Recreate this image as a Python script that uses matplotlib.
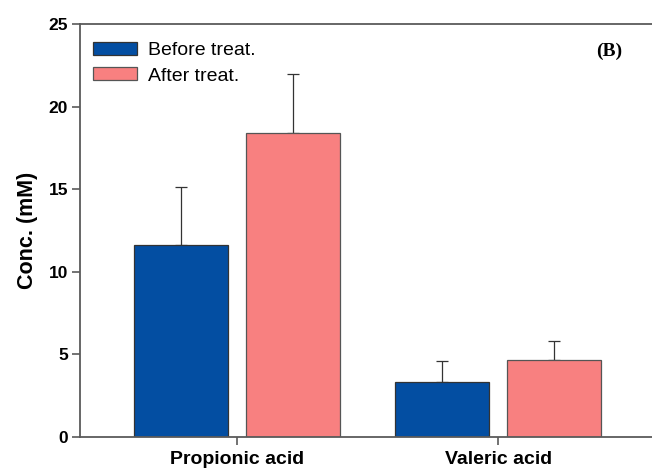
import numpy as np
import matplotlib.pyplot as plt

plt.rcParams['font.family'] = ['Liberation Sans', 'DejaVu Sans']

# data
categories = ["Propionic acid", "Valeric acid"]
before_vals = [11.62, 3.33]
before_err = [3.51, 1.27]
after_vals = [18.40, 4.66]
after_err = [3.57, 1.15]

blue = "#034EA2"
pink = "#F88080"
grey = "#5a5a5a"

fig = plt.figure(figsize=(6.52, 4.71), dpi=100)
ax = fig.add_axes([0.1227, 0.0722, 0.8973, 0.8769])

x = np.arange(len(categories))
w = 0.36
off = 0.214
ax.bar(x - off, before_vals, w, color=blue, edgecolor="#333333", linewidth=0.9,
       label="Before treat.", zorder=2)
ax.bar(x + off, after_vals, w, color=pink, edgecolor="#555555", linewidth=0.9,
       label="After treat.", zorder=2)
ax.errorbar(x - off, before_vals, yerr=[np.zeros(2), before_err], fmt="none",
            ecolor="#333333", elinewidth=0.9, capsize=4.5, capthick=0.9, zorder=1)
ax.errorbar(x + off, after_vals, yerr=[np.zeros(2), after_err], fmt="none",
            ecolor="#333333", elinewidth=0.9, capsize=4.5, capthick=0.9, zorder=1)

ax.set_xlim(-0.6015, 1.639)
ax.set_ylim(0, 25)
ax.set_yticks([0, 5, 10, 15, 20, 25])
ax.set_xticks(x)
ax.set_xticklabels(categories, fontsize=14, fontweight="bold")
for lab in ax.get_yticklabels():
    lab.set_fontweight("bold")
    lab.set_fontsize(12.5)
ax.set_ylabel("Conc. (mM)", fontsize=15.5, fontweight="bold", labelpad=8)

for s in ["left", "top", "bottom", "right"]:
    ax.spines[s].set_color(grey)
    ax.spines[s].set_linewidth(1.3)
ax.tick_params(axis="y", direction="out", length=6, width=1.2, color=grey, pad=2.5)
ax.tick_params(axis="x", direction="out", length=6, width=1.2, color=grey, pad=4)

leg = ax.legend(loc="upper left", frameon=False, fontsize=14, handlelength=2.27,
                handleheight=0.67, handletextpad=0.57, labelspacing=0.4,
                borderpad=0, borderaxespad=0,
                bbox_to_anchor=(13 / 585.0, (437 - 42) / 413.0))
for h in leg.legend_handles:
    h.set_linewidth(0.9)

ax.text((609 - 80) / 585.0, (437 - 51) / 413.0, "(B)", transform=ax.transAxes,
        fontsize=14, fontweight="bold", family="Liberation Serif",
        ha="center", va="center")

fig.savefig("out.png", dpi=100)
